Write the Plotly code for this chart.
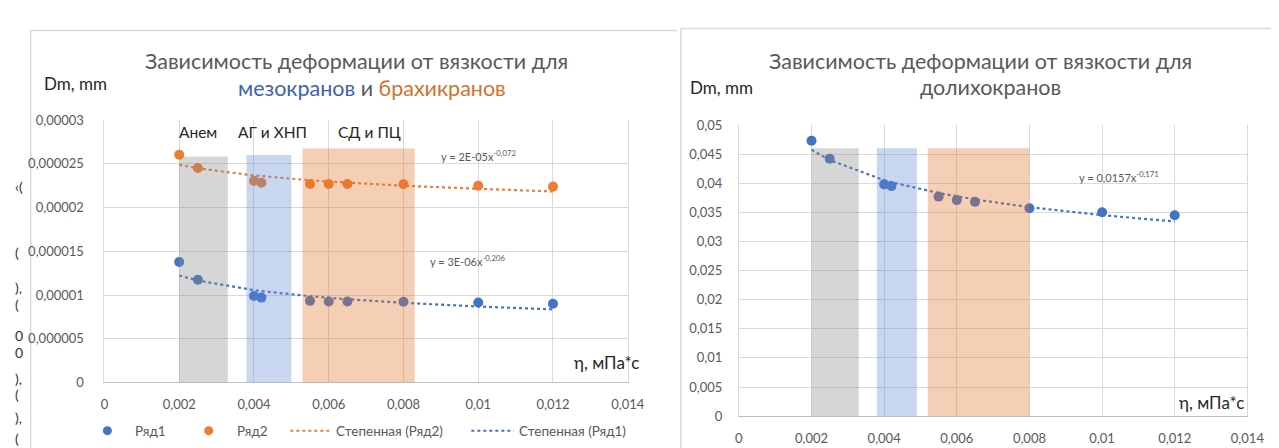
import numpy as np
import plotly.graph_objects as go

W, H = 1279, 448


def px(x):
    return x / W


def py(y):
    return 1 - y / H


# ---------------- data ----------------
visc = [0.002, 0.0025, 0.004, 0.0042, 0.0055, 0.006, 0.0065, 0.008, 0.01, 0.012]
meso_dm = [13.78e-6, 11.74e-6, 9.89e-6, 9.70e-6, 9.33e-6, 9.26e-6, 9.26e-6, 9.22e-6, 9.15e-6, 9.0e-6]
brachy_dm = [26.04e-6, 24.52e-6, 23.07e-6, 22.85e-6, 22.70e-6, 22.70e-6, 22.70e-6, 22.67e-6, 22.5e-6, 22.4e-6]
dolicho_visc = [0.002, 0.0025, 0.004, 0.0042, 0.0055, 0.006, 0.0065, 0.008, 0.01, 0.012]
dolicho_dm = [0.0473, 0.0442, 0.0398, 0.0395, 0.0377, 0.0371, 0.0368, 0.0357, 0.0350, 0.0345]

band_names = ["Анем", "АГ и ХНП", "СД и ПЦ"]
band_colors = ["#8a8a8a", "#628ad4", "#e0762e"]
left_band_x0 = [0.0020, 0.0038, 0.0053]
left_band_x1 = [0.0033, 0.0050, 0.0083]
left_band_top = [25.85e-6, 26.0e-6, 26.75e-6]
left_band_label_x = [0.0025, 0.0045, 0.0071]
left_band_label_y = 28.6e-6
right_band_x0 = [0.0020, 0.0038, 0.0052]
right_band_x1 = [0.0033, 0.0049, 0.0080]
right_band_top = [0.046, 0.046, 0.046]
right_band_label_x = [0.0024, 0.0040, 0.0061]
right_band_label_y = 0.0522

x_ticks = [0, 0.002, 0.004, 0.006, 0.008, 0.01, 0.012, 0.014]
x_ticklabels = ["0", "0,002", "0,004", "0,006", "0,008", "0,01", "0,012", "0,014"]
left_y_ticks = [0, 5e-6, 10e-6, 15e-6, 20e-6, 25e-6, 30e-6]
left_y_ticklabels = ["0", "0,000005", "0,00001", "0,000015", "0,00002", "0,000025", "0,00003"]
right_y_ticks = [0, 0.005, 0.01, 0.015, 0.02, 0.025, 0.03, 0.035, 0.04, 0.045, 0.05]
right_y_ticklabels = ["0", "0,005", "0,01", "0,015", "0,02", "0,025", "0,03", "0,035", "0,04", "0,045", "0,05"]

eq_brachy = "y = 2E-05x<sup>-0,072</sup>"
eq_meso = "y = 3E-06x<sup>-0,206</sup>"
eq_dolicho = "y = 0,0157x<sup>-0,171</sup>"

series_names = ["Ряд1", "Ряд2", "Степенная (Ряд2)", "Степенная (Ряд1)"]

BLUE = "#4472c4"
ORANGE = "#ed7d31"
GRID = "#d9d9d9"
TXT = "#595959"
DARK = "#262626"
FONT = "Lato"


def power_fit(x, y):
    # least-squares power trendline, as Excel computes it
    b, ln_a = np.polyfit(np.log(x), np.log(y), 1)
    xs = np.array(sorted(x))
    return xs, np.exp(ln_a) * xs ** b


fig = go.Figure()

# left chart
fig.add_trace(go.Scatter(x=visc, y=meso_dm, mode="markers", name=series_names[0], showlegend=False,
                         marker=dict(color=BLUE, size=10), xaxis="x", yaxis="y"))
fig.add_trace(go.Scatter(x=visc, y=brachy_dm, mode="markers", name=series_names[1], showlegend=False,
                         marker=dict(color=ORANGE, size=10), xaxis="x", yaxis="y"))
tx, ty = power_fit(visc, brachy_dm)
fig.add_trace(go.Scatter(x=tx, y=ty, mode="lines", name=series_names[2], showlegend=False,
                         line=dict(color=ORANGE, width=2.2, dash="dot"), xaxis="x", yaxis="y"))
tx, ty = power_fit(visc, meso_dm)
fig.add_trace(go.Scatter(x=tx, y=ty, mode="lines", name=series_names[3], showlegend=False,
                         line=dict(color=BLUE, width=2.2, dash="dot"), xaxis="x", yaxis="y"))

# right chart
fig.add_trace(go.Scatter(x=dolicho_visc, y=dolicho_dm, mode="markers", showlegend=False,
                         marker=dict(color=BLUE, size=10), xaxis="x2", yaxis="y2"))
tx, ty = power_fit(dolicho_visc, dolicho_dm)
fig.add_trace(go.Scatter(x=tx, y=ty, mode="lines", showlegend=False,
                         line=dict(color=BLUE, width=2.2, dash="dot"), xaxis="x2", yaxis="y2"))

shapes = []
for i in range(3):
    shapes.append(dict(type="rect", xref="x", yref="y", x0=left_band_x0[i], x1=left_band_x1[i],
                       y0=0, y1=left_band_top[i], fillcolor=band_colors[i], opacity=0.35,
                       line=dict(width=0), layer="above"))
    shapes.append(dict(type="rect", xref="x2", yref="y2", x0=right_band_x0[i], x1=right_band_x1[i],
                       y0=0, y1=right_band_top[i], fillcolor=band_colors[i], opacity=0.35,
                       line=dict(width=0), layer="above"))

# chart-area borders
for (x0, y0, x1, y1) in [(19, 15, 676, 15), (19, 15, 19, 460), (680, 13, 1290, 13), (680, 13, 680, 460)]:
    shapes.append(dict(type="line", xref="paper", yref="paper", x0=px(x0), y0=py(y0), x1=px(x1), y1=py(y1),
                       line=dict(color=GRID, width=1.5), layer="below"))

ann = []


def A(text, x, y, xref="paper", yref="paper", size=14, color=DARK, xanchor="center"):
    ann.append(dict(text=text, x=x, y=y, xref=xref, yref=yref, showarrow=False,
                    font=dict(family=FONT, size=size, color=color), xanchor=xanchor, yanchor="middle"))


# legend of the left chart (Excel style, drawn in pixel positions)
LEG_Y = 430
for cx, col in [(97, BLUE), (200, ORANGE)]:
    shapes.append(dict(type="circle", xref="paper", yref="paper", xsizemode="pixel", ysizemode="pixel",
                       xanchor=px(cx), yanchor=py(LEG_Y), x0=-4.5, x1=4.5, y0=-4.5, y1=4.5,
                       fillcolor=col, line=dict(width=0)))
for lx0, lx1, col in [(283, 325, ORANGE), (467, 510, BLUE)]:
    shapes.append(dict(type="line", xref="paper", yref="paper", x0=px(lx0), x1=px(lx1),
                       y0=py(LEG_Y), y1=py(LEG_Y), line=dict(color=col, width=2, dash="dot")))
for name, tx0 in zip(series_names, [123, 227, 327, 513]):
    A(name, px(tx0), py(LEG_Y), size=13.5, color=TXT, xanchor="left")

A("Зависимость деформации от вязкости для", px(350), py(47), size=21.5, color=TXT)
A("<span style='color:#3d62ae'>мезокранов</span> и <span style='color:#d2722f'>брахикранов</span>",
  px(366), py(75), size=21.5, color=TXT)
A("Зависимость деформации от вязкости для", px(985), py(47), size=21.5, color=TXT)
A("долихокранов", px(995), py(74), size=21.5, color=TXT)
A("Dm, mm", px(31), py(70), size=17, xanchor="left")
A("Dm, mm", px(687), py(74), size=17, xanchor="left")
A("η, мПа*с", px(639), py(359), size=17, xanchor="right")
A("η, мПа*с", px(1255), py(401), size=17, xanchor="right")
for i in range(3):
    A(band_names[i], left_band_label_x[i], left_band_label_y, "x", "y", size=15.5)
    A(band_names[i], right_band_label_x[i], right_band_label_y, "x2", "y2", size=15.5)
A(eq_brachy, 0.0100, 25.9e-6, "x", "y", size=11, color=TXT)
A(eq_meso, 0.0097, 14.0e-6, "x", "y", size=11, color=TXT)
A(eq_dolicho, 0.01046, 0.0411, "x2", "y2", size=11, color=TXT)

# cut-off text fragments at the far left edge
for t, yy in [("‹(", 177), ("(", 245), ("),", 282), ("(", 299), ("0", 331), ("0", 349),
              ("),", 376), ("(", 393), ("),", 416), ("(", 438)]:
    A(t, px(1), py(yy), size=14, color="#333333", xanchor="left")

axis_common = dict(showgrid=True, gridcolor=GRID, gridwidth=1, zeroline=False, ticks="",
                   tickfont=dict(family=FONT, size=13, color=TXT))

fig.update_layout(
    width=W, height=H, margin=dict(l=0, r=0, t=0, b=0),
    paper_bgcolor="white", plot_bgcolor="white", showlegend=False,
    font=dict(family=FONT, color=TXT),
    xaxis=dict(domain=[px(94), px(626)], range=[0, 0.014], anchor="y", tickvals=x_ticks,
               ticktext=x_ticklabels, showline=True, linecolor="#bfbfbf", ticklabelstandoff=10, **axis_common),
    yaxis=dict(domain=[py(380), py(108)], range=[0, 30.0001e-6], anchor="x", tickvals=left_y_ticks,
               ticktext=left_y_ticklabels, showline=True, linecolor=GRID, mirror=True,
               ticklabelstandoff=17, **axis_common),
    xaxis2=dict(domain=[px(739), px(1256)], range=[0, 0.014], anchor="y2", tickvals=x_ticks,
                ticktext=x_ticklabels, showline=True, linecolor="#bfbfbf", ticklabelstandoff=10, **axis_common),
    yaxis2=dict(domain=[py(415), py(113)], range=[0, 0.050001], anchor="x2", tickvals=right_y_ticks,
                ticktext=right_y_ticklabels, showline=True, linecolor=GRID, mirror=True,
                ticklabelstandoff=13, **axis_common),
    shapes=shapes, annotations=ann,
)

fig.write_html("out.html")
